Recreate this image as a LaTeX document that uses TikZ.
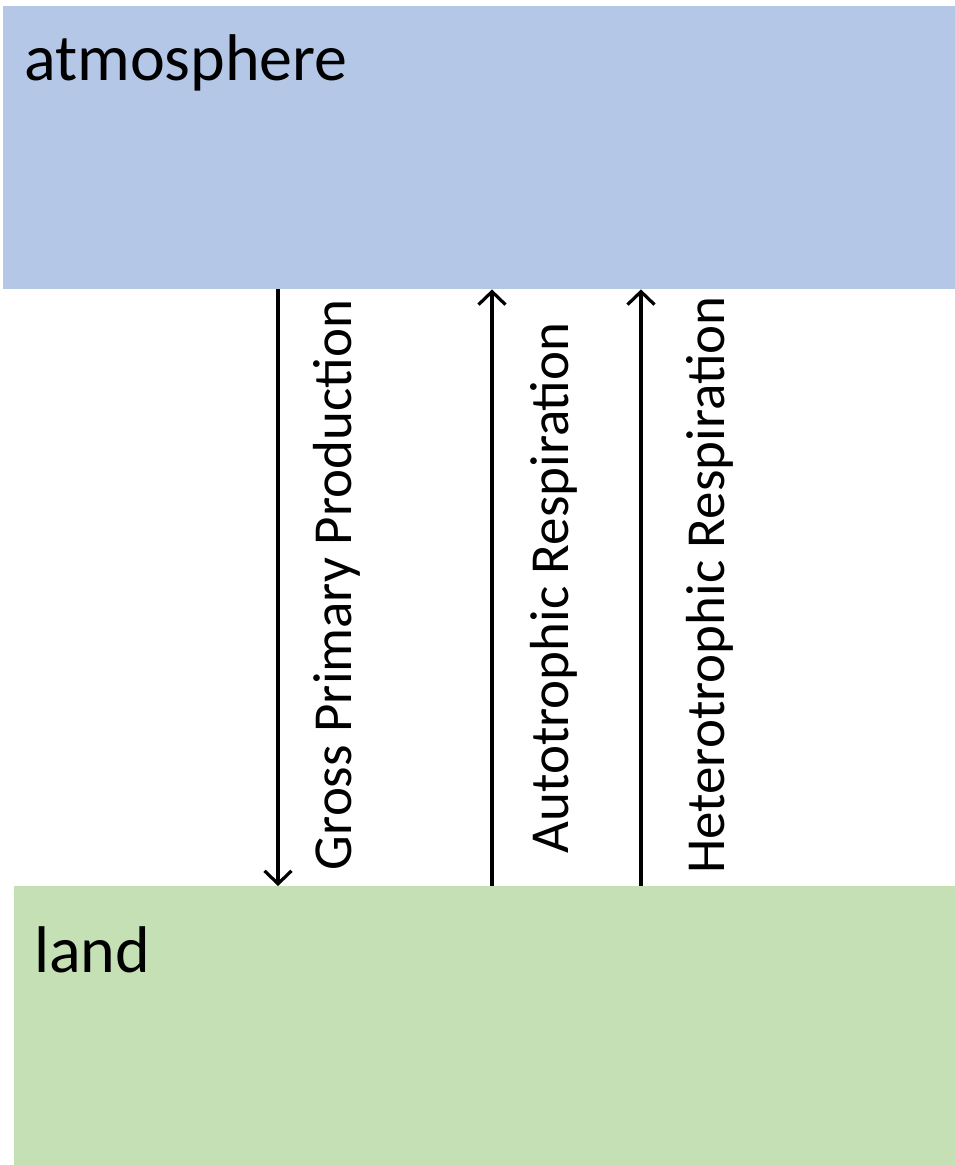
\documentclass[tikz,border=0pt]{standalone}
\usepackage{fontspec}
\setmainfont{Carlito}
\usetikzlibrary{arrows.meta}
\definecolor{atmblue}{HTML}{B4C7E7}
\definecolor{landgreen}{HTML}{C5E0B4}
\tikzset{
  pool/.style={draw=none, inner sep=0pt, anchor=north west},
  flux/.style={line width=3.2pt, -{Straight Barb[length=13pt,width=27pt,line width=3.2pt]}},
  fluxlabel/.style={rotate=90, anchor=base, inner sep=0pt, font=\fontsize{55}{66}\selectfont}
}
\begin{document}
\begin{tikzpicture}[x=1pt, y=-1pt]
    \useasboundingbox (0,0) rectangle (955,1165);
    \node[pool, fill=atmblue, minimum width=952pt, minimum height=283pt] (atm) at (3,6) {};
    \node[pool, fill=landgreen, minimum width=941pt, minimum height=279pt] (land) at (14,886) {};
    \node[anchor=base west, inner sep=0pt, font=\fontsize{66}{79}\selectfont] (atmtext) at (24,80) {atmosphere};
    \node[anchor=base west, inner sep=0pt, font=\fontsize{66}{79}\selectfont] (landtext) at (34,972) {land};
    % the three fluxes
    \coordinate (gpp) at (278,0);
    \coordinate (ra) at (492,0);
    \coordinate (rh) at (641,0);
    \draw[flux] (gpp |- atm.south) -- (gpp |- land.north);
    \draw[flux] (ra |- land.north) -- (ra |- atm.south);
    \draw[flux] (rh |- land.north) -- (rh |- atm.south);
    \node[fluxlabel] (gpplabel) at (351,585) {Gross Primary Production};
    \node[fluxlabel] (ralabel) at (568,588) {Autotrophic Respiration};
    \node[fluxlabel] (rhlabel) at (724,585) {Heterotrophic Respiration};
\end{tikzpicture}
\end{document}
